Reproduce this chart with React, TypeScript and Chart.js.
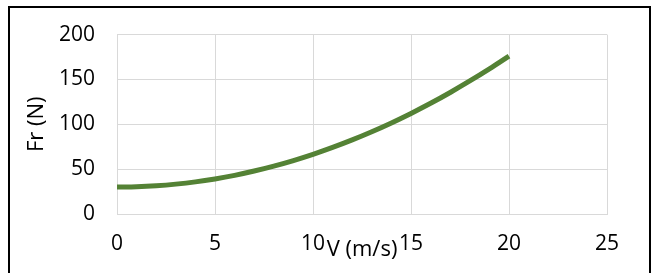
import React, { useEffect, useRef } from "react";
import { Chart, registerables } from "chart.js";

Chart.register(...registerables);

const speedV = [0, 1, 2, 3, 4, 5, 6, 7, 8, 9, 10, 11, 12, 13, 14, 15, 16, 17, 18, 19, 20];
const forceFr = [30, 30.4, 31.5, 33.3, 35.8, 39.1, 43.1, 47.9, 53.4, 59.6, 66.5, 74.2, 82.6, 91.7, 101.5, 112.1, 123.4, 135.5, 148.3, 161.8, 176];
const xTitle = "V (m/s)";
const yTitle = "Fr (N)";
const xMin = 0, xMax = 25, xStep = 5;
const yMin = 0, yMax = 200, yStep = 50;

const FONT = "'Open Sans', sans-serif";

export default function App() {
  const ref = useRef<HTMLCanvasElement>(null);
  useEffect(() => {
    document.body.style.margin = "0";
    const canvas = ref.current!;
    const decor = {
      id: "decor",
      afterDraw(chart: any) {
        const { ctx, chartArea } = chart;
        ctx.save();
        ctx.fillStyle = "#000";
        ctx.font = `22px ${FONT}`;
        ctx.textAlign = "center";
        ctx.textBaseline = "alphabetic";
        ctx.fillText(xTitle, (chartArea.left + chartArea.right) / 2, 256);
        ctx.translate(43, (chartArea.top + chartArea.bottom) / 2);
        ctx.rotate(-Math.PI / 2);
        ctx.fillText(yTitle, 0, 0);
        ctx.restore();
        ctx.save();
        ctx.strokeStyle = "#000";
        ctx.lineWidth = 2;
        ctx.strokeRect(9, 7, 641, 290);
        ctx.restore();
      },
    };
    const chart = new Chart(canvas, {
      type: "scatter",
      data: {
        datasets: [
          {
            data: speedV.map((v, i) => ({ x: v, y: forceFr[i] })),
            showLine: true,
            borderColor: "#548235",
            backgroundColor: "#548235",
            borderWidth: 5,
            pointRadius: 0,
            cubicInterpolationMode: "monotone",
            borderCapStyle: "butt",
          },
        ],
      },
      options: {
        animation: false,
        responsive: false,
        devicePixelRatio: 1,
        layout: { padding: { left: 0, top: 30, right: 45, bottom: 0 } },
        plugins: { legend: { display: false }, tooltip: { enabled: false } },
        scales: {
          x: {
            type: "linear",
            min: xMin,
            max: xMax,
            afterFit: (s: any) => { s.height = 59; },
            ticks: { stepSize: xStep, color: "#000", font: { family: FONT, size: 21 }, padding: 17, maxRotation: 0 },
            grid: { color: "#d9d9d9", lineWidth: 1, drawTicks: false },
            border: { color: "#d9d9d9" },
          },
          y: {
            min: yMin,
            max: yMax,
            afterFit: (s: any) => { s.width = 117; },
            ticks: { stepSize: yStep, color: "#000", font: { family: FONT, size: 21 }, padding: 22 },
            grid: { color: "#d9d9d9", lineWidth: 1, drawTicks: false },
            border: { color: "#d9d9d9" },
          },
        },
      },
      plugins: [decor],
    } as any);
    return () => chart.destroy();
  }, []);
  return <canvas ref={ref} width={652} height={273} style={{ display: "block" }} />;
}
